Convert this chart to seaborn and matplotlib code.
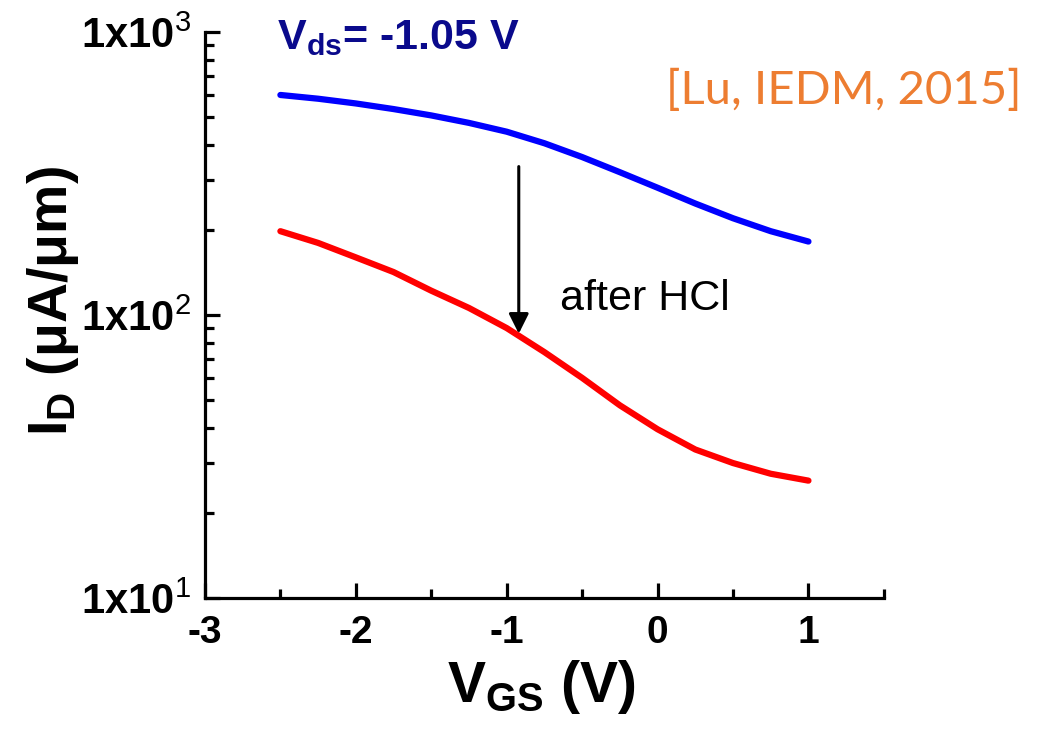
import numpy as np
import pandas as pd
import matplotlib
matplotlib.use("Agg")
import matplotlib.pyplot as plt
from matplotlib.ticker import LogLocator, MultipleLocator, FixedLocator, FuncFormatter
import seaborn as sns

# data
vgs = [-2.5, -2.25, -2.0, -1.75, -1.5, -1.25, -1.0, -0.75, -0.5, -0.25, 0.0, 0.25, 0.5, 0.75, 1.0]
id_before = [600, 582, 560, 535, 508, 478, 445, 405, 362, 320, 282, 248, 220, 198, 182]
id_after = [198, 180, 160, 142, 122, 106, 90, 74, 60, 48, 39.5, 33.5, 30, 27.5, 26]
x_major = [-3, -2, -1, 0, 1]
y_major = [10, 100, 1000]

df = pd.DataFrame({
    "vgs": vgs * 2,
    "id": id_before + id_after,
    "state": ["before"] * len(vgs) + ["after HCl"] * len(vgs),
})

sns.set_style("ticks")
plt.rcParams['font.family'] = ['Liberation Sans', 'DejaVu Sans']
plt.rcParams['axes.unicode_minus'] = False
plt.rcParams['mathtext.fontset'] = 'custom'
plt.rcParams['mathtext.rm'] = 'Liberation Sans'
plt.rcParams['mathtext.it'] = 'Liberation Sans'
plt.rcParams['mathtext.bf'] = 'Liberation Sans:bold'
for k in ['text.color', 'axes.labelcolor', 'xtick.color', 'ytick.color', 'axes.edgecolor']:
    plt.rcParams[k] = 'black'

fig = plt.figure(figsize=(10.51, 7.32), dpi=100)
ax = fig.add_axes([0.195, 0.183, 0.646, 0.773])

sns.lineplot(data=df, x="vgs", y="id", hue="state",
             palette={"before": "#0000ff", "after HCl": "#ff0000"},
             linewidth=4.5, legend=False, ax=ax)

ax.set_yscale("log")
ax.set_xlim(-3, 1.5)
ax.set_ylim(10, 1000)

for s in ["top", "right"]:
    ax.spines[s].set_visible(False)
for s in ["left", "bottom"]:
    ax.spines[s].set_linewidth(2.3)

ax.xaxis.set_major_locator(FixedLocator(x_major))
ax.xaxis.set_minor_locator(MultipleLocator(0.5))
ax.yaxis.set_major_locator(FixedLocator(y_major))
ax.yaxis.set_minor_locator(LogLocator(base=10, subs=np.arange(2, 10)))

ax.xaxis.set_major_formatter(FuncFormatter(lambda v, p: f"{int(v)}"))
ax.yaxis.set_major_formatter(FuncFormatter(
    lambda v, p: r"$\mathbf{1x10}^{\mathrm{%d}}$" % int(round(np.log10(v)))))

ax.tick_params(axis="both", which="major", direction="in", width=2.3, length=10.5,
               labelsize=28)
ax.tick_params(axis="both", which="minor", direction="in", width=2.3, length=6.5)
ax.tick_params(axis="y", which="major", pad=10, labelsize=30)
ax.tick_params(axis="x", which="major", pad=12)
for lab in ax.get_xticklabels():
    lab.set_fontweight("bold")

ax.set_xlabel(r"$\mathbf{V_{GS}}$ (V)", fontsize=41, fontweight="bold")
ax.set_ylabel(r"$\mathbf{I_{D}}$ ($\mathbf{\mu}$A/$\mathbf{\mu}$m)", fontsize=40, fontweight="bold")
ax.xaxis.set_label_coords(0.496, -0.106)
ax.yaxis.set_label_coords(-0.182, 0.525)

# arrow and annotation
ax.annotate("", xy=(-0.92, 86), xytext=(-0.92, 335),
            arrowprops=dict(arrowstyle="-|>", color="black", lw=2.2,
                            mutation_scale=30, shrinkA=0, shrinkB=0))
ax.text(-0.65, 114, "after HCl", fontsize=31, va="center", ha="left", color="black")

ax.text(-2.52, 950, r"$\mathbf{V_{ds}}$= -1.05 V", fontsize=31, fontweight="bold",
        color="#0a0a8c", va="center", ha="left")

fig.text(0.972, 0.877, "[Lu, IEDM, 2015]", fontsize=34, color="#ed7d31",
         ha="right", va="center", family=["Lato", "DejaVu Sans"])

fig.savefig("out.png", dpi=100)
